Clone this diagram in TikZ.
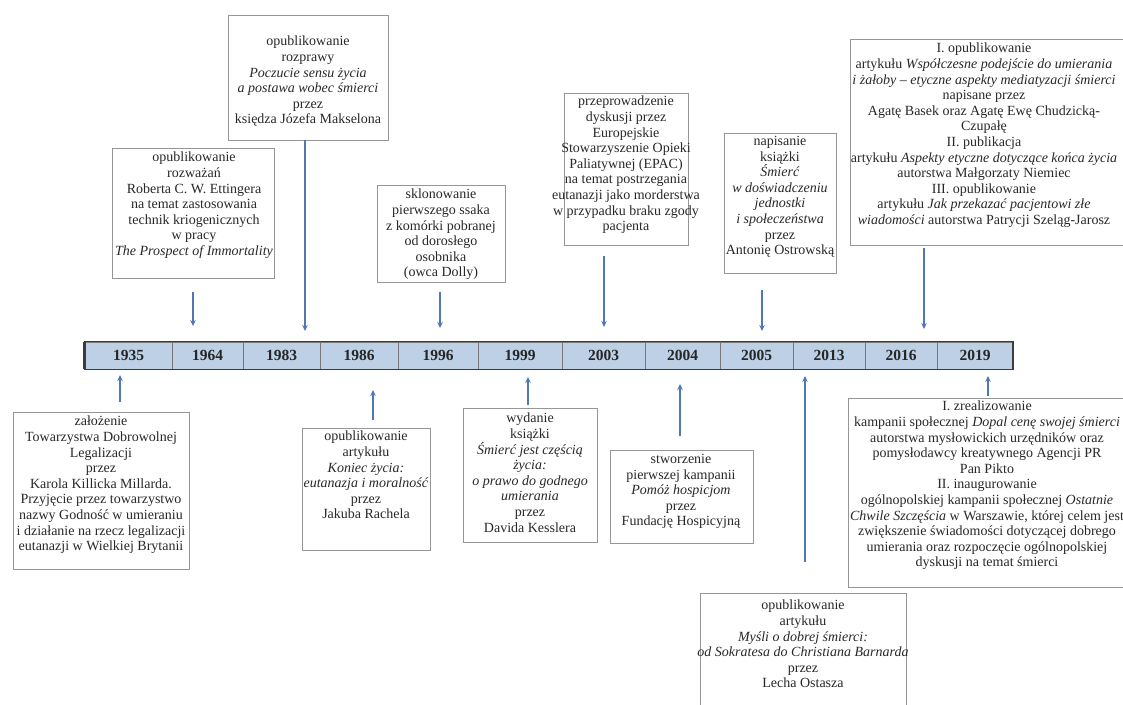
\documentclass[tikz,border=0pt]{standalone}
\usepackage{fontspec}
\setmainfont{Liberation Serif}
\usetikzlibrary{arrows.meta}
\definecolor{boxgray}{RGB}{150,150,150}
\definecolor{txtgray}{RGB}{40,40,40}
\definecolor{arrblue}{RGB}{79,120,180}
\definecolor{barfill}{RGB}{190,208,230}
\definecolor{barline}{RGB}{60,60,60}
\definecolor{divgray}{RGB}{120,120,120}
\tikzset{
  box/.style={draw=boxgray, line width=0.9pt, fill=white, inner sep=0pt},
  txt/.style={align=center, inner sep=0pt, anchor=north, font=\fontsize{14}{15.6}\selectfont, text=txtgray},
  arr/.style={draw=arrblue, line width=1.1pt, -{Stealth[length=6pt,width=5.5pt]}},
  cell/.style={draw=divgray, line width=0.8pt, fill=barfill, minimum height=27pt, inner sep=0pt,
    font=\fontsize{15.5}{16}\selectfont\bfseries, text=black!85},
}
\begin{document}
\begin{tikzpicture}[x=1pt,y=-1pt]
\useasboundingbox[fill=white] (0,0) rectangle (1123,704);

% ---------- timeline bar ----------
\node[cell, minimum width=87pt] (y1935) at (128.5,355.5) {1935};
\node[cell, minimum width=71pt] (y1964) at (207.5,355.5) {1964};
\node[cell, minimum width=77pt] (y1983) at (281.5,355.5) {1983};
\node[cell, minimum width=78pt] (y1986) at (359,355.5) {1986};
\node[cell, minimum width=80pt] (y1996) at (438,355.5) {1996};
\node[cell, minimum width=84pt] (y1999) at (520,355.5) {1999};
\node[cell, minimum width=83pt] (y2003) at (603.5,355.5) {2003};
\node[cell, minimum width=75pt] (y2004) at (682.5,355.5) {2004};
\node[cell, minimum width=73pt] (y2005) at (756.5,355.5) {2005};
\node[cell, minimum width=72pt] (y2013) at (829,355.5) {2013};
\node[cell, minimum width=72pt] (y2016) at (901,355.5) {2016};
\node[cell, minimum width=76pt] (y2019) at (975,355.5) {2019};
\draw[barline, line width=1pt] (y1935.north west) rectangle (y2019.south east);
\draw[barline, line width=2.5pt] (y1935.north west) -- (y1935.south west);
\draw[barline, line width=2pt] (y2019.north east) -- (y2019.south east);

% ---------- boxes above ----------
\node[box, minimum width=160pt, minimum height=125pt] (bMak) at (308,77.5) {};
\node[txt] (tMak) at (308,36) {opublikowanie\\ rozprawy\\ \textit{Poczucie sensu życia}\\ \textit{a postawa wobec śmierci}\\ przez\\ księdza Józefa Makselona};

\node[box, minimum width=162pt, minimum height=130pt] (bEtt) at (193,213) {};
\node[txt] (tEtt) at (194,152) {opublikowanie\\ rozważań\\ Roberta C. W. Ettingera\\ na temat zastosowania\\ technik kriogenicznych\\ w pracy\\ \textit{The Prospect of Immortality}};

\node[box, minimum width=128pt, minimum height=97pt] (bDol) at (441,234) {};
\node[txt] (tDol) at (441,189) {sklonowanie\\ pierwszego ssaka\\ z komórki pobranej\\ od dorosłego\\ osobnika\\ (owca Dolly)};

\node[box, minimum width=124pt, minimum height=152pt] (bEpac) at (626,169) {};
\node[txt] (tEpac) at (626,96) {przeprowadzenie\\ dyskusji przez\\ Europejskie\\ Stowarzyszenie Opieki\\ Paliatywnej (EPAC)\\ na temat postrzegania\\ eutanazji jako morderstwa\\ w przypadku braku zgody\\ pacjenta};

\node[box, minimum width=112pt, minimum height=140pt] (bOstr) at (780,203) {};
\node[txt] (tOstr) at (780,136) {napisanie\\ książki\\ \textit{Śmierć}\\ \textit{w doświadczeniu}\\ \textit{jednostki}\\ \textit{i społeczeństwa}\\ przez\\ Antonię Ostrowską};

\node[box, minimum width=275pt, minimum height=206pt] (bTR) at (987.5,142) {};
\node[txt] (tTR) at (984,43) {I. opublikowanie\\ artykułu \textit{Współczesne podejście do umierania}\\ \textit{i żałoby – etyczne aspekty mediatyzacji śmierci}\\ napisane przez\\ Agatę Basek oraz Agatę Ewę Chudzicką-\\ Czupałę\\ II. publikacja\\ artykułu \textit{Aspekty etyczne dotyczące końca życia}\\ autorstwa Małgorzaty Niemiec\\ III. opublikowanie\\ artykułu \textit{Jak przekazać pacjentowi złe}\\ \textit{wiadomości} autorstwa Patrycji Szeląg-Jarosz};

% ---------- boxes below ----------
\node[box, minimum width=176pt, minimum height=157pt] (bBL) at (101,490.5) {};
\node[txt] (tBL) at (101,416) {założenie\\ Towarzystwa Dobrowolnej\\ Legalizacji\\ przez\\ Karola Killicka Millarda.\\ Przyjęcie przez towarzystwo\\ nazwy Godność w umieraniu\\ i działanie na rzecz legalizacji\\ eutanazji w Wielkiej Brytanii};

\node[box, minimum width=128pt, minimum height=122pt] (bRach) at (366,489) {};
\node[txt] (tRach) at (366,431) {opublikowanie\\ artykułu\\ \textit{Koniec życia:}\\ \textit{eutanazja i moralność}\\ przez\\ Jakuba Rachela};

\node[box, minimum width=134pt, minimum height=134pt] (bKess) at (530,475) {};
\node[txt] (tKess) at (530,413) {wydanie\\ książki\\ \textit{Śmierć jest częścią}\\ \textit{życia:}\\ \textit{o prawo do godnego}\\ \textit{umierania}\\ przez\\ Davida Kesslera};

\node[box, minimum width=143pt, minimum height=93pt] (bHosp) at (681.5,496.5) {};
\node[txt] (tHosp) at (681,454) {stworzenie\\ pierwszej kampanii\\ \textit{Pomóż hospicjom}\\ przez\\ Fundację Hospicyjną};

\node[box, minimum width=206pt, minimum height=120pt] (bOsz) at (803,653) {};
\node[txt] (tOsz) at (803,600) {opublikowanie\\ artykułu\\ \textit{Myśli o dobrej śmierci:}\\ \textit{od Sokratesa do Christiana Barnarda}\\ przez\\ Lecha Ostasza};

\node[box, minimum width=278pt, minimum height=189pt] (bBR) at (987,492.5) {};
\node[txt] (tBR) at (987,401) {I. zrealizowanie\\ kampanii społecznej \textit{Dopal cenę swojej śmierci}\\ autorstwa mysłowickich urzędników oraz\\ pomysłodawcy kreatywnego Agencji PR\\ Pan Pikto\\ II. inaugurowanie\\ ogólnopolskiej kampanii społecznej \textit{Ostatnie}\\ \textit{Chwile Szczęścia} w Warszawie, której celem jest\\ zwiększenie świadomości dotyczącej dobrego\\ umierania oraz rozpoczęcie ogólnopolskiej\\ dyskusji na temat śmierci};

% ---------- arrow end points ----------
\coordinate (s1935) at (120,402);  \coordinate (e1935) at (120,375);
\coordinate (s1964) at (193,292);  \coordinate (e1964) at (193,326);
\coordinate (s1983) at (305,140);  \coordinate (e1983) at (305,331);
\coordinate (s1986) at (373,420);  \coordinate (e1986) at (373,390);
\coordinate (s1996) at (440,292);  \coordinate (e1996) at (440,328);
\coordinate (s1999) at (528,405);  \coordinate (e1999) at (528,377);
\coordinate (s2003) at (604,256);  \coordinate (e2003) at (604,327);
\coordinate (s2004) at (680,436);  \coordinate (e2004) at (680,384);
\coordinate (s2005) at (762,290);  \coordinate (e2005) at (762,331);
\coordinate (s2013) at (805,562);  \coordinate (e2013) at (805,376);
\coordinate (s2016) at (924,248);  \coordinate (e2016) at (924,329);
\coordinate (s2019) at (988,396);  \coordinate (e2019) at (988,376);

\foreach \y in {1935,1964,1983,1986,1996,1999,2003,2004,2005,2013,2016,2019}
  \draw[arr] (s\y) -- (e\y);
\end{tikzpicture}
\end{document}
